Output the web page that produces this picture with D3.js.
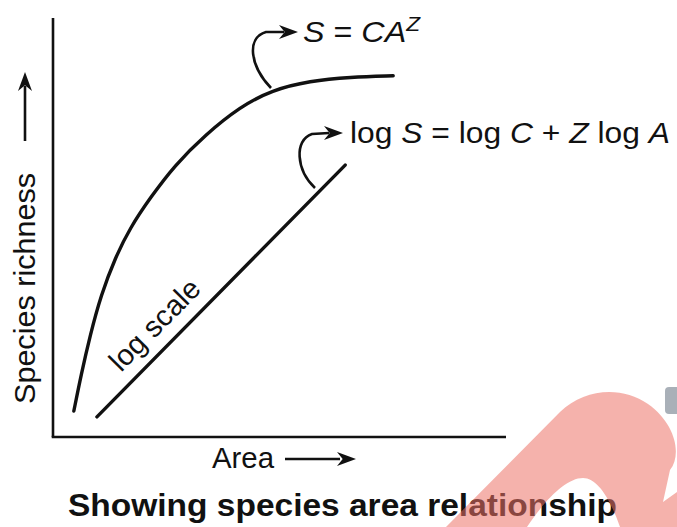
<!DOCTYPE html>
<html>
<head>
<meta charset="utf-8">
<script src="https://cdn.jsdelivr.net/npm/d3@7"></script>
<style>
  html, body { margin: 0; padding: 0; background: #fff; }
  svg { display: block; }
  text { font-family: "Liberation Sans", Arial, sans-serif; fill: #111; }
</style>
</head>
<body>
<svg id="chart" width="677" height="527"></svg>
<script>
// ---- data (arbitrary units, 0-100 on both axes) ----
const curveArea     = [4.6, 6.2, 8.2, 10.6, 13.7, 17.0, 21.4, 26.9, 33.6, 41.3, 48.3, 56.7, 65.6, 75.1];
const curveRichness = [6.2, 14.8, 24.3, 33.9, 42.7, 49.9, 57.0, 64.9, 72.1, 78.8, 82.8, 85.0, 85.9, 86.2];
const logArea       = [9.7, 64.5];
const logRichness   = [4.8, 64.9];
const powerLabel    = ["S", " = ", "CA", "Z"];
const logLabel      = ["log ", "S", " = log ", "C", " + ", "Z", " log ", "A"];
const xLabel = "Area";
const yLabel = "Species richness";
const lineLabel = "log scale";
const title = "Showing species area relationship";

const svg = d3.select("#chart");
const x = d3.scaleLinear().domain([0, 100]).range([53, 506]);
const y = d3.scaleLinear().domain([0, 100]).range([437, 18]);

// axes (as plain lines, no ticks)
svg.append("line").attr("x1", x(0)).attr("x2", x(0)).attr("y1", y(0)).attr("y2", y(100))
  .attr("stroke", "#111").attr("stroke-width", 2.6);
svg.append("line").attr("x1", x(0) - 1.3).attr("x2", x(100)).attr("y1", y(0)).attr("y2", y(0))
  .attr("stroke", "#111").attr("stroke-width", 2.6);

// power curve
const curvePts = curveArea.map((a, i) => [a, curveRichness[i]]);
const line = d3.line().x(d => x(d[0])).y(d => y(d[1])).curve(d3.curveBasis);
svg.append("path").attr("d", line(curvePts)).attr("fill", "none")
  .attr("stroke", "#111").attr("stroke-width", 3.4).attr("stroke-linecap", "round");

// log line
const logPts = logArea.map((a, i) => [a, logRichness[i]]);
svg.append("path").attr("d", d3.line().x(d => x(d[0])).y(d => y(d[1]))(logPts)).attr("fill", "none")
  .attr("stroke", "#111").attr("stroke-width", 3.4).attr("stroke-linecap", "round");

// arrowhead helper
function arrowHead(tipX, tipY, angleDeg, len, half) {
  const a = angleDeg * Math.PI / 180;
  const bx = tipX - len * Math.cos(a), by = tipY - len * Math.sin(a);
  const nx = -Math.sin(a), ny = Math.cos(a);
  const notch = len * 0.3;
  const cx = tipX - (len - notch) * Math.cos(a), cy = tipY - (len - notch) * Math.sin(a);
  return `M${tipX},${tipY} L${bx + nx * half},${by + ny * half} L${cx},${cy} L${bx - nx * half},${by - ny * half} Z`;
}

// curved pointer arrows
const g = svg.append("g").attr("stroke", "#111").attr("fill", "none").attr("stroke-width", 2.6);
g.append("path").attr("d", "M271,88 C250,66 246,38 266,32 L284,32");
svg.append("path").attr("d", arrowHead(298, 32, 0, 19, 7)).attr("fill", "#111");
g.append("path").attr("d", "M315,188 C296,170 294,140 312,134 L329,133");
svg.append("path").attr("d", arrowHead(343, 133, 0, 19, 7)).attr("fill", "#111");

// axis direction arrows
g.append("line").attr("x1", 25).attr("x2", 25).attr("y1", 141).attr("y2", 86);
svg.append("path").attr("d", arrowHead(25, 72, -90, 19, 7)).attr("fill", "#111");
g.append("line").attr("x1", 285).attr("x2", 340).attr("y1", 459).attr("y2", 459);
svg.append("path").attr("d", arrowHead(356, 459, 0, 19, 7)).attr("fill", "#111");

// labels
const t1 = svg.append("text").attr("x", 303).attr("y", 42).attr("font-size", 30)
  .attr("textLength", 117).attr("lengthAdjust", "spacingAndGlyphs");
t1.append("tspan").attr("font-style", "italic").text(powerLabel[0]);
t1.append("tspan").text(powerLabel[1]);
t1.append("tspan").attr("font-style", "italic").text(powerLabel[2]);
t1.append("tspan").attr("font-style", "italic").attr("font-size", 21).attr("dy", -11).text(powerLabel[3]);

const t2 = svg.append("text").attr("x", 350).attr("y", 143).attr("font-size", 30)
  .attr("textLength", 320).attr("lengthAdjust", "spacingAndGlyphs");
logLabel.forEach((s, i) => {
  t2.append("tspan").attr("font-style", i % 2 === 1 ? "italic" : "normal").text(s);
});

// "log scale" along the line
const ang = Math.atan2(y(logRichness[1]) - y(logRichness[0]), x(logArea[1]) - x(logArea[0])) * 180 / Math.PI;
svg.append("text").attr("font-size", 29)
  .attr("transform", `translate(121,373) rotate(${ang})`)
  .attr("textLength", 116).attr("lengthAdjust", "spacingAndGlyphs")
  .text(lineLabel);

svg.append("text").attr("x", 212).attr("y", 468).attr("font-size", 30)
  .attr("textLength", 62).attr("lengthAdjust", "spacingAndGlyphs").text(xLabel);

svg.append("text").attr("font-size", 29)
  .attr("transform", "translate(35,404) rotate(-90)")
  .attr("textLength", 231).attr("lengthAdjust", "spacingAndGlyphs")
  .text(yLabel);

svg.append("text").attr("x", 68).attr("y", 516).attr("font-size", 32).attr("font-weight", "bold")
  .attr("textLength", 549).attr("lengthAdjust", "spacingAndGlyphs")
  .text(title);

// watermark decoration
svg.append("path")
  .attr("d", "M446,527 L560,412 C585,388 622,386 648,404 C676,424 682,455 670,470 L663,502 L677,492 L677,527 L620,527 C610,498 597,478 583,478 C566,478 545,500 527,527 Z")
  .attr("fill", "rgb(237,115,104)").attr("fill-opacity", 0.55);
svg.append("rect").attr("x", 665).attr("y", 387).attr("width", 20).attr("height", 27).attr("rx", 4)
  .attr("fill", "#a9b0b8");
</script>
</body>
</html>
